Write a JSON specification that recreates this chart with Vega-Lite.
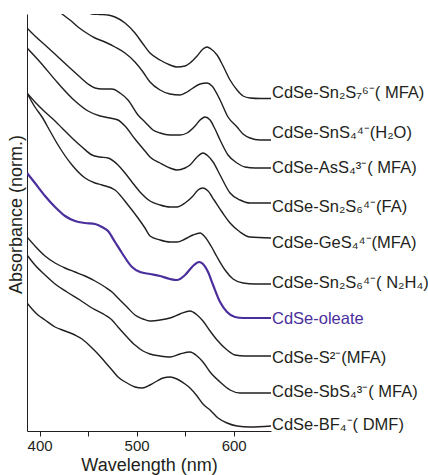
{
  "$schema": "https://vega.github.io/schema/vega-lite/v6.json",
  "width": 244,
  "height": 417,
  "autosize": "none",
  "padding": {"left": 27, "top": 14, "right": 157, "bottom": 44},
  "background": "white",
  "config": {
    "view": {"stroke": null},
    "font": "Liberation Sans",
    "axis": {"grid": false, "domainColor": "#231f20", "domainWidth": 1, "tickColor": "#231f20", "labelColor": "#231f20", "titleColor": "#231f20", "labelFont": "Liberation Sans", "titleFont": "Liberation Sans", "titleFontWeight": "normal"}
  },
  "datasets": {
    "curves": [
      {"s":"Sn2S7","w":441.6,"a":4.27},{"s":"Sn2S7","w":454.0,"a":4.17},{"s":"Sn2S7","w":462.3,"a":4.165},{"s":"Sn2S7","w":470.5,"a":4.16},{"s":"Sn2S7","w":477.7,"a":4.14},{"s":"Sn2S7","w":488.0,"a":4.08},{"s":"Sn2S7","w":498.3,"a":3.98},{"s":"Sn2S7","w":506.6,"a":3.87},{"s":"Sn2S7","w":513.8,"a":3.78},{"s":"Sn2S7","w":524.1,"a":3.71},{"s":"Sn2S7","w":534.4,"a":3.66},{"s":"Sn2S7","w":541.6,"a":3.64},{"s":"Sn2S7","w":549.9,"a":3.65},{"s":"Sn2S7","w":555.0,"a":3.68},{"s":"Sn2S7","w":562.3,"a":3.75},{"s":"Sn2S7","w":568.4,"a":3.82},{"s":"Sn2S7","w":572.6,"a":3.84},{"s":"Sn2S7","w":576.7,"a":3.82},{"s":"Sn2S7","w":582.9,"a":3.76},{"s":"Sn2S7","w":589.1,"a":3.65},{"s":"Sn2S7","w":596.3,"a":3.51},{"s":"Sn2S7","w":603.5,"a":3.41},{"s":"Sn2S7","w":609.7,"a":3.35},{"s":"Sn2S7","w":616.9,"a":3.33},{"s":"Sn2S7","w":627.2,"a":3.325},{"s":"Sn2S7","w":638.5,"a":3.325},

      {"s":"SnS4","w":415.9,"a":4.23},{"s":"SnS4","w":423.1,"a":4.17},{"s":"SnS4","w":431.3,"a":4.11},{"s":"SnS4","w":439.6,"a":4.04},{"s":"SnS4","w":446.8,"a":3.99},{"s":"SnS4","w":457.1,"a":3.93},{"s":"SnS4","w":467.4,"a":3.89},{"s":"SnS4","w":477.7,"a":3.84},{"s":"SnS4","w":488.0,"a":3.78},{"s":"SnS4","w":498.3,"a":3.69},{"s":"SnS4","w":506.6,"a":3.59},{"s":"SnS4","w":513.8,"a":3.49},{"s":"SnS4","w":524.1,"a":3.41},{"s":"SnS4","w":534.4,"a":3.37},{"s":"SnS4","w":544.7,"a":3.36},{"s":"SnS4","w":552.0,"a":3.39},{"s":"SnS4","w":558.1,"a":3.43},{"s":"SnS4","w":565.4,"a":3.47},{"s":"SnS4","w":572.6,"a":3.48},{"s":"SnS4","w":577.7,"a":3.45},{"s":"SnS4","w":586.0,"a":3.31},{"s":"SnS4","w":594.2,"a":3.14},{"s":"SnS4","w":603.5,"a":3.04},{"s":"SnS4","w":609.7,"a":2.97},{"s":"SnS4","w":616.9,"a":2.93},{"s":"SnS4","w":627.2,"a":2.91},{"s":"SnS4","w":638.5,"a":2.91},

      {"s":"AsS4","w":387,"a":4.03},{"s":"AsS4","w":395.2,"a":3.95},{"s":"AsS4","w":405.6,"a":3.86},{"s":"AsS4","w":419.0,"a":3.74},{"s":"AsS4","w":431.3,"a":3.63},{"s":"AsS4","w":441.6,"a":3.54},{"s":"AsS4","w":449.9,"a":3.47},{"s":"AsS4","w":457.1,"a":3.43},{"s":"AsS4","w":464.3,"a":3.42},{"s":"AsS4","w":474.6,"a":3.42},{"s":"AsS4","w":482.9,"a":3.38},{"s":"AsS4","w":491.1,"a":3.31},{"s":"AsS4","w":501.4,"a":3.16},{"s":"AsS4","w":508.6,"a":3.09},{"s":"AsS4","w":516.9,"a":3.01},{"s":"AsS4","w":524.1,"a":2.98},{"s":"AsS4","w":534.4,"a":2.96},{"s":"AsS4","w":544.7,"a":2.96},{"s":"AsS4","w":552.0,"a":2.98},{"s":"AsS4","w":560.2,"a":3.05},{"s":"AsS4","w":565.4,"a":3.11},{"s":"AsS4","w":570.5,"a":3.14},{"s":"AsS4","w":575.7,"a":3.11},{"s":"AsS4","w":580.8,"a":3.02},{"s":"AsS4","w":586.0,"a":2.91},{"s":"AsS4","w":594.2,"a":2.76},{"s":"AsS4","w":603.5,"a":2.68},{"s":"AsS4","w":611.7,"a":2.64},{"s":"AsS4","w":622.1,"a":2.63},{"s":"AsS4","w":638.5,"a":2.63},

      {"s":"Sn2S6FA","w":387,"a":3.83},{"s":"Sn2S6FA","w":400.4,"a":3.69},{"s":"Sn2S6FA","w":417.9,"a":3.49},{"s":"Sn2S6FA","w":436.5,"a":3.30},{"s":"Sn2S6FA","w":449.9,"a":3.20},{"s":"Sn2S6FA","w":462.3,"a":3.15},{"s":"Sn2S6FA","w":472.6,"a":3.13},{"s":"Sn2S6FA","w":480.8,"a":3.11},{"s":"Sn2S6FA","w":488.0,"a":3.05},{"s":"Sn2S6FA","w":498.3,"a":2.92},{"s":"Sn2S6FA","w":508.6,"a":2.80},{"s":"Sn2S6FA","w":513.8,"a":2.74},{"s":"Sn2S6FA","w":524.1,"a":2.68},{"s":"Sn2S6FA","w":534.4,"a":2.63},{"s":"Sn2S6FA","w":541.6,"a":2.61},{"s":"Sn2S6FA","w":549.9,"a":2.63},{"s":"Sn2S6FA","w":555.0,"a":2.66},{"s":"Sn2S6FA","w":562.3,"a":2.74},{"s":"Sn2S6FA","w":568.4,"a":2.78},{"s":"Sn2S6FA","w":573.6,"a":2.75},{"s":"Sn2S6FA","w":578.8,"a":2.69},{"s":"Sn2S6FA","w":586.0,"a":2.56},{"s":"Sn2S6FA","w":596.3,"a":2.38},{"s":"Sn2S6FA","w":606.6,"a":2.31},{"s":"Sn2S6FA","w":616.9,"a":2.28},{"s":"Sn2S6FA","w":638.5,"a":2.28},

      {"s":"GeS4","w":387,"a":3.38},{"s":"GeS4","w":395.2,"a":3.29},{"s":"GeS4","w":405.6,"a":3.19},{"s":"GeS4","w":415.9,"a":3.10},{"s":"GeS4","w":423.1,"a":3.03},{"s":"GeS4","w":433.4,"a":2.93},{"s":"GeS4","w":443.7,"a":2.84},{"s":"GeS4","w":454.0,"a":2.76},{"s":"GeS4","w":462.3,"a":2.74},{"s":"GeS4","w":470.5,"a":2.73},{"s":"GeS4","w":480.8,"a":2.66},{"s":"GeS4","w":488.0,"a":2.58},{"s":"GeS4","w":495.2,"a":2.49},{"s":"GeS4","w":503.5,"a":2.39},{"s":"GeS4","w":513.8,"a":2.30},{"s":"GeS4","w":524.1,"a":2.26},{"s":"GeS4","w":534.4,"a":2.24},{"s":"GeS4","w":541.6,"a":2.24},{"s":"GeS4","w":549.9,"a":2.28},{"s":"GeS4","w":558.1,"a":2.35},{"s":"GeS4","w":563.3,"a":2.41},{"s":"GeS4","w":568.4,"a":2.43},{"s":"GeS4","w":573.6,"a":2.40},{"s":"GeS4","w":579.8,"a":2.31},{"s":"GeS4","w":588.0,"a":2.19},{"s":"GeS4","w":596.3,"a":2.08},{"s":"GeS4","w":606.6,"a":1.99},{"s":"GeS4","w":616.9,"a":1.94},{"s":"GeS4","w":638.5,"a":1.93},

      {"s":"Sn2S6N2H4","w":387,"a":3.38},{"s":"Sn2S6N2H4","w":395.2,"a":3.24},{"s":"Sn2S6N2H4","w":402.5,"a":3.14},{"s":"Sn2S6N2H4","w":410.7,"a":3.00},{"s":"Sn2S6N2H4","w":419.0,"a":2.86},{"s":"Sn2S6N2H4","w":433.4,"a":2.66},{"s":"Sn2S6N2H4","w":446.8,"a":2.53},{"s":"Sn2S6N2H4","w":457.1,"a":2.48},{"s":"Sn2S6N2H4","w":464.3,"a":2.46},{"s":"Sn2S6N2H4","w":477.7,"a":2.41},{"s":"Sn2S6N2H4","w":491.1,"a":2.26},{"s":"Sn2S6N2H4","w":501.4,"a":2.13},{"s":"Sn2S6N2H4","w":508.6,"a":2.03},{"s":"Sn2S6N2H4","w":513.8,"a":1.95},{"s":"Sn2S6N2H4","w":524.1,"a":1.91},{"s":"Sn2S6N2H4","w":534.4,"a":1.89},{"s":"Sn2S6N2H4","w":541.6,"a":1.89},{"s":"Sn2S6N2H4","w":549.9,"a":1.92},{"s":"Sn2S6N2H4","w":558.1,"a":1.96},{"s":"Sn2S6N2H4","w":565.4,"a":1.98},{"s":"Sn2S6N2H4","w":570.5,"a":1.94},{"s":"Sn2S6N2H4","w":576.7,"a":1.85},{"s":"Sn2S6N2H4","w":582.9,"a":1.74},{"s":"Sn2S6N2H4","w":591.1,"a":1.61},{"s":"Sn2S6N2H4","w":599.4,"a":1.52},{"s":"Sn2S6N2H4","w":609.7,"a":1.48},{"s":"Sn2S6N2H4","w":622.1,"a":1.47},{"s":"Sn2S6N2H4","w":638.5,"a":1.47},

      {"s":"oleate","w":387,"a":2.58},{"s":"oleate","w":395.2,"a":2.48},{"s":"oleate","w":405.6,"a":2.35},{"s":"oleate","w":415.9,"a":2.24},{"s":"oleate","w":426.2,"a":2.15},{"s":"oleate","w":436.5,"a":2.10},{"s":"oleate","w":446.8,"a":2.08},{"s":"oleate","w":457.1,"a":2.07},{"s":"oleate","w":464.3,"a":2.04},{"s":"oleate","w":470.5,"a":2.00},{"s":"oleate","w":477.7,"a":1.89},{"s":"oleate","w":484.9,"a":1.78},{"s":"oleate","w":495.2,"a":1.64},{"s":"oleate","w":503.5,"a":1.59},{"s":"oleate","w":513.8,"a":1.57},{"s":"oleate","w":524.1,"a":1.55},{"s":"oleate","w":534.4,"a":1.52},{"s":"oleate","w":541.6,"a":1.51},{"s":"oleate","w":549.9,"a":1.56},{"s":"oleate","w":558.1,"a":1.65},{"s":"oleate","w":564.3,"a":1.69},{"s":"oleate","w":568.4,"a":1.67},{"s":"oleate","w":573.6,"a":1.59},{"s":"oleate","w":578.8,"a":1.46},{"s":"oleate","w":586.0,"a":1.29},{"s":"oleate","w":593.2,"a":1.19},{"s":"oleate","w":601.4,"a":1.14},{"s":"oleate","w":609.7,"a":1.13},{"s":"oleate","w":638.5,"a":1.13},

      {"s":"S2","w":387,"a":1.94},{"s":"S2","w":395.2,"a":1.85},{"s":"S2","w":405.6,"a":1.75},{"s":"S2","w":415.9,"a":1.68},{"s":"S2","w":426.2,"a":1.63},{"s":"S2","w":436.5,"a":1.59},{"s":"S2","w":446.8,"a":1.55},{"s":"S2","w":457.1,"a":1.50},{"s":"S2","w":467.4,"a":1.44},{"s":"S2","w":474.6,"a":1.39},{"s":"S2","w":480.8,"a":1.33},{"s":"S2","w":490.1,"a":1.24},{"s":"S2","w":498.3,"a":1.16},{"s":"S2","w":506.6,"a":1.12},{"s":"S2","w":513.8,"a":1.10},{"s":"S2","w":524.1,"a":1.11},{"s":"S2","w":534.4,"a":1.13},{"s":"S2","w":544.7,"a":1.17},{"s":"S2","w":555.0,"a":1.20},{"s":"S2","w":562.3,"a":1.16},{"s":"S2","w":568.4,"a":1.10},{"s":"S2","w":575.7,"a":1.00},{"s":"S2","w":582.9,"a":0.91},{"s":"S2","w":593.2,"a":0.81},{"s":"S2","w":601.4,"a":0.76},{"s":"S2","w":611.7,"a":0.75},{"s":"S2","w":638.5,"a":0.75},

      {"s":"SbS4","w":387,"a":1.76},{"s":"SbS4","w":395.2,"a":1.66},{"s":"SbS4","w":405.6,"a":1.56},{"s":"SbS4","w":415.9,"a":1.47},{"s":"SbS4","w":428.2,"a":1.39},{"s":"SbS4","w":441.6,"a":1.31},{"s":"SbS4","w":454.0,"a":1.23},{"s":"SbS4","w":467.4,"a":1.16},{"s":"SbS4","w":474.6,"a":1.11},{"s":"SbS4","w":480.8,"a":1.04},{"s":"SbS4","w":490.1,"a":0.94},{"s":"SbS4","w":498.3,"a":0.86},{"s":"SbS4","w":506.6,"a":0.80},{"s":"SbS4","w":513.8,"a":0.77},{"s":"SbS4","w":524.1,"a":0.75},{"s":"SbS4","w":534.4,"a":0.74},{"s":"SbS4","w":544.7,"a":0.77},{"s":"SbS4","w":555.0,"a":0.79},{"s":"SbS4","w":562.3,"a":0.75},{"s":"SbS4","w":568.4,"a":0.69},{"s":"SbS4","w":575.7,"a":0.59},{"s":"SbS4","w":586.0,"a":0.49},{"s":"SbS4","w":596.3,"a":0.41},{"s":"SbS4","w":606.6,"a":0.38},{"s":"SbS4","w":638.5,"a":0.38},

      {"s":"BF4","w":387,"a":1.28},{"s":"BF4","w":392.2,"a":1.22},{"s":"BF4","w":398.3,"a":1.16},{"s":"BF4","w":405.6,"a":1.11},{"s":"BF4","w":415.9,"a":1.04},{"s":"BF4","w":426.2,"a":1.00},{"s":"BF4","w":436.5,"a":0.96},{"s":"BF4","w":443.7,"a":0.92},{"s":"BF4","w":451.9,"a":0.85},{"s":"BF4","w":460.2,"a":0.77},{"s":"BF4","w":467.4,"a":0.69},{"s":"BF4","w":474.6,"a":0.61},{"s":"BF4","w":480.8,"a":0.54},{"s":"BF4","w":490.1,"a":0.48},{"s":"BF4","w":498.3,"a":0.44},{"s":"BF4","w":505.6,"a":0.43},{"s":"BF4","w":513.8,"a":0.46},{"s":"BF4","w":521.0,"a":0.50},{"s":"BF4","w":527.2,"a":0.53},{"s":"BF4","w":534.4,"a":0.54},{"s":"BF4","w":541.6,"a":0.52},{"s":"BF4","w":549.9,"a":0.47},{"s":"BF4","w":555.0,"a":0.43},{"s":"BF4","w":562.3,"a":0.35},{"s":"BF4","w":568.4,"a":0.27},{"s":"BF4","w":575.7,"a":0.21},{"s":"BF4","w":583.9,"a":0.13},{"s":"BF4","w":593.2,"a":0.08},{"s":"BF4","w":603.5,"a":0.05},{"s":"BF4","w":616.9,"a":0.04},{"s":"BF4","w":638.5,"a":0.05}
    ],
    "labels": [
      {"s":"Sn2S7","w":638.5,"a":3.33,"t":"CdSe-Sn₂S₇⁶⁻( MFA)"},
      {"s":"SnS4","w":638.5,"a":2.93,"t":"CdSe-SnS₄⁴⁻(H₂O)"},
      {"s":"AsS4","w":638.5,"a":2.58,"t":"CdSe-AsS₄³⁻( MFA)"},
      {"s":"Sn2S6FA","w":638.5,"a":2.19,"t":"CdSe-Sn₂S₆⁴⁻(FA)"},
      {"s":"GeS4","w":638.5,"a":1.83,"t":"CdSe-GeS₄⁴⁻(MFA)"},
      {"s":"Sn2S6N2H4","w":638.5,"a":1.43,"t":"CdSe-Sn₂S₆⁴⁻( N₂H₄)"},
      {"s":"oleate","w":638.5,"a":1.07,"t":"CdSe-oleate"},
      {"s":"S2","w":638.5,"a":0.68,"t":"CdSe-S²⁻(MFA)"},
      {"s":"SbS4","w":638.5,"a":0.34,"t":"CdSe-SbS₄³⁻( MFA)"},
      {"s":"BF4","w":638.5,"a":0.01,"t":"CdSe-BF₄⁻( DMF)"}
    ]
  },
  "layer": [
    {
      "data": {"name": "curves"},
      "mark": {"type": "line", "clip": true, "interpolate": "monotone"},
      "encoding": {
        "x": {"field": "w", "type": "quantitative", "scale": {"domain": [387, 638.5], "nice": false, "zero": false},
              "axis": {"values": [400, 450, 500, 550, 600], "labelExpr": "datum.value % 100 === 0 ? datum.label : ''", "tickSize": 5, "labelFontSize": 15, "labelPadding": 2, "title": "Wavelength (nm)", "titleFontSize": 18, "titlePadding": 3}},
        "y": {"field": "a", "type": "quantitative", "scale": {"domain": [0, 4.17], "nice": false, "zero": false},
              "axis": {"ticks": false, "labels": false, "title": "Absorbance (norm.)", "titleFontSize": 18, "titlePadding": 2, "titleY": 200}},
        "detail": {"field": "s", "type": "nominal"},
        "color": {"field": "s", "type": "nominal", "legend": null,
                  "scale": {"domain": ["Sn2S7","SnS4","AsS4","Sn2S6FA","GeS4","Sn2S6N2H4","oleate","S2","SbS4","BF4"],
                            "range": ["#231f20","#231f20","#231f20","#231f20","#231f20","#231f20","#4a2e9c","#231f20","#231f20","#231f20"]}},
        "strokeWidth": {"condition": {"test": "datum.s === 'oleate'", "value": 2.2}, "value": 1.4}
      }
    },
    {
      "data": {"name": "labels"},
      "mark": {"type": "text", "align": "left", "baseline": "alphabetic", "dx": 1, "fontSize": 16.5, "font": "Liberation Sans"},
      "encoding": {
        "x": {"field": "w", "type": "quantitative"},
        "y": {"field": "a", "type": "quantitative"},
        "text": {"field": "t"},
        "color": {"field": "s", "type": "nominal", "legend": null}
      }
    }
  ]
}
